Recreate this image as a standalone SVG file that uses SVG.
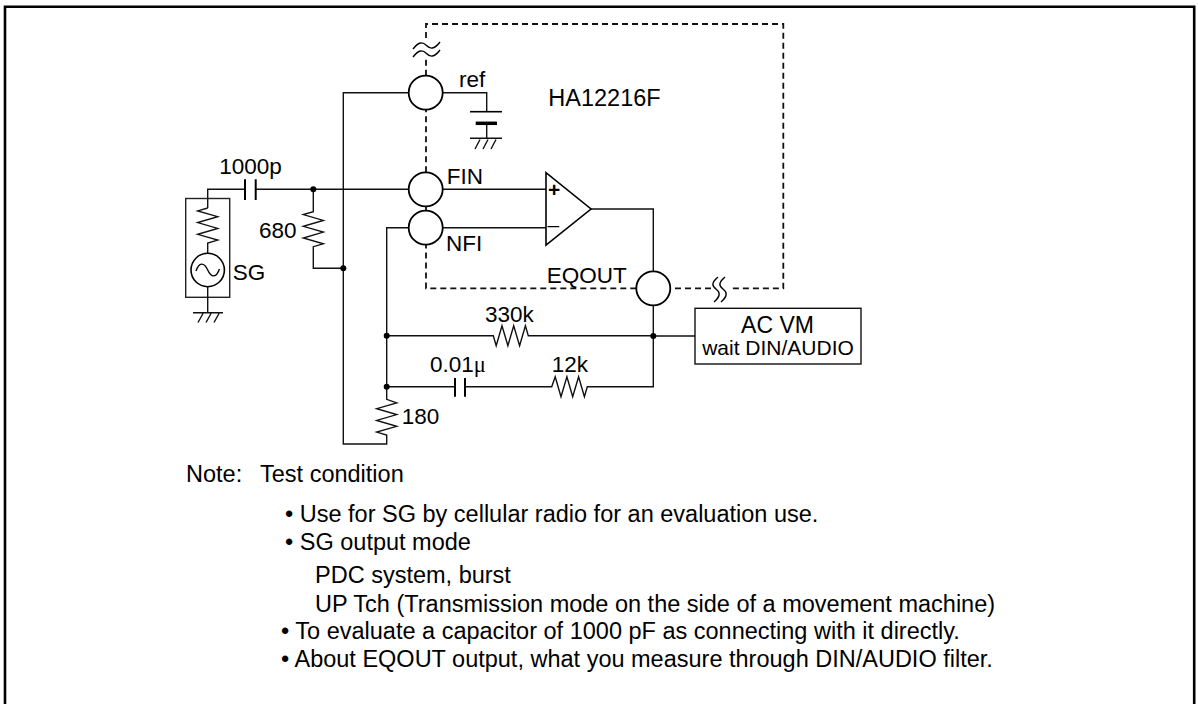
<svg xmlns="http://www.w3.org/2000/svg" width="1198" height="704" viewBox="0 0 1198 704">
<style>
  .w{fill:none;stroke:#111;stroke-width:1.4;stroke-linecap:butt;stroke-linejoin:miter}
  .pin{fill:#fff;stroke:#000;stroke-width:1.8}
  .dash{fill:none;stroke:#111;stroke-width:1.8;stroke-dasharray:6 4}
  .brk{fill:none;stroke:#000;stroke-width:1.4}
  .dot{fill:#000}
  .t{font-family:"Liberation Sans",Arial,sans-serif;font-size:22.5px;fill:#000}
  .n{font-family:"Liberation Sans",Arial,sans-serif;font-size:23.5px;fill:#000}
  .plate{stroke:#000;stroke-width:1.6;fill:none}
</style>
<rect x="0" y="0" width="1198" height="704" fill="#fff"/>
<path d="M5,712 V6.7 H1194.2 V712" fill="none" stroke="#000" stroke-width="2.6"/>

<g id="ic-boundary">
  <path class="dash" d="M426,38 V24 H783.3 V288.3 H729"/>
  <path class="dash" d="M711,288.3 H670.3"/>
  <path class="dash" d="M636.3,288.3 H426 V244.7"/>
  <path class="dash" d="M426,210.7 V206.3"/>
  <path class="dash" d="M426,172.3 V109.7"/>
  <path class="dash" d="M426,75.7 V59"/>
  <path class="brk" d="M413,49 C419,41 423,42 426.5,45.5 C430,49 434,50 440,42"/>
  <path class="brk" d="M413,57 C419,49 423,50 426.5,53.5 C430,57 434,58 440,50"/>
  <path class="brk" d="M718,277 C711,283 712,286 716,289 C720,292 721,296 714,302"/>
  <path class="brk" d="M725,277 C718,283 719,286 723,289 C727,292 728,296 721,302"/>
  <text class="t" x="548.3" y="106" style="font-size:23.5px">HA12216F</text>
</g>

<g id="connectors">
  <path class="w" d="M207.7,208 V189.3 H245"/>
  <path class="w" d="M255.7,189.3 H408.7"/>
  <path class="w" d="M313.3,189.3 V211.7 L303.3,214.6 L323.3,220.4 L303.3,226.3 L323.3,232.1 L303.3,238 L323.3,243.8 L313.3,246.7 V268.3 H343.3"/>
  <path class="w" d="M408.7,92.7 H343.3 V444 H386.7 V435 L376.7,432.1 L396.7,426.3 L376.7,420.4 L396.7,414.6 L376.7,408.7 L396.7,402.9 L386.7,399.3 V227.7 H408.7"/>
  <path class="w" d="M442.7,189.3 H546"/>
  <path class="w" d="M442.7,227.7 H546"/>
  <path class="w" d="M591,209 H653.3 V271.3"/>
  <path class="w" d="M653.3,305.3 V386.7 H587.3 L584.4,396.7 L578.6,376.7 L572.7,396.7 L566.9,376.7 L561,396.7 L555.2,376.7 L551.7,386.7 H465"/>
  <path class="w" d="M455,386.7 H386.7"/>
  <path class="w" d="M386.7,335.7 H493.3 L496.2,345.7 L502,325.7 L507.9,345.7 L513.7,325.7 L519.6,345.7 L525.4,325.7 L528.3,335.7 H653.3"/>
  <path class="w" d="M653.3,336 H695"/>
  <path class="w" d="M442.7,92.7 H486.7 V111.7"/>
  <path class="w" d="M486.7,123.3 V138.3"/>
  <g id="junctions">
    <circle class="dot" cx="313.3" cy="189.3" r="3"/>
    <circle class="dot" cx="343.3" cy="268.3" r="3"/>
    <circle class="dot" cx="386.7" cy="335.7" r="3"/>
    <circle class="dot" cx="386.7" cy="386.7" r="3"/>
    <circle class="dot" cx="653.3" cy="336" r="3"/>
  </g>
</g>

<g id="c-1000p">
  <path class="plate" d="M245,179.3 V200 M255.7,179.3 V200" style="stroke-width:2"/>
  <text class="t" x="219.3" y="174">1000p</text>
</g>

<g id="sg">
  <rect x="185.7" y="198.5" width="44" height="98.8" fill="none" stroke="#222" stroke-width="1.4"/>
  <path class="w" d="M207.7,208 L197.7,210.9 L217.7,216.7 L197.7,222.6 L217.7,228.4 L197.7,234.3 L217.7,240.1 L207.7,243 V253.3"/>
  <circle cx="207.7" cy="270" r="16.7" fill="none" stroke="#000" stroke-width="1.6"/>
  <path class="brk" d="M196,271 C199,262 204,262 207.7,270 C211.4,278 216.4,278 219.4,269"/>
  <path class="w" d="M207.7,286.7 V312.7"/>
  <path class="w" d="M193,312.7 H223 M198,322.5 L203,313.5 M206,322.5 L211,313.5 M214,322.5 L219,313.5"/>
  <text class="t" x="232.7" y="280">SG</text>
</g>

<g id="r-680">
  <text class="t" x="259" y="237.7">680</text>
</g>

<g id="pin-ref">
  <circle class="pin" cx="425.7" cy="92.7" r="17"/>
  <text class="t" x="459" y="87.3">ref</text>
</g>

<g id="c-ref">
  <path class="plate" d="M470,111.7 H502"/>
  <path class="plate" d="M475.7,123.3 H497" style="stroke-width:3.5"/>
  <path class="w" d="M470,138.3 H502 M475,149 L480,139.5 M483,149 L488,139.5 M491,149 L496,139.5"/>
</g>

<g id="pin-fin">
  <circle class="pin" cx="425.7" cy="189.3" r="17"/>
  <text class="t" x="446.7" y="184">FIN</text>
</g>

<g id="pin-nfi">
  <circle class="pin" cx="425.7" cy="227.7" r="17"/>
  <text class="t" x="446" y="250.7">NFI</text>
</g>

<g id="opamp">
  <path d="M546,172.7 V245 L591,209 Z" fill="#fff" stroke="#000" stroke-width="1.6"/>
  <text class="t" x="548" y="196.5" style="font-size:21px;font-weight:bold">+</text>
  <text class="t" x="547.5" y="232" style="font-size:21px">–</text>
</g>

<g id="pin-eqout">
  <circle class="pin" cx="653.3" cy="288.3" r="17"/>
  <text class="t" x="546.7" y="283.3">EQOUT</text>
</g>

<g id="r-330k">
  <text class="t" x="485" y="321.7">330k</text>
</g>

<g id="c-001u">
  <path class="plate" d="M455,378 V396.7 M465,378 V396.7" style="stroke-width:2"/>
  <text class="t" x="430" y="371.7">0.01<tspan style="font-family:'Liberation Serif',serif">μ</tspan></text>
</g>

<g id="r-12k">
  <text class="t" x="551.7" y="371.7">12k</text>
</g>

<g id="r-180">
  <text class="t" x="401.7" y="424.3">180</text>
</g>

<g id="acvm">
  <rect x="695" y="308.3" width="166" height="55.7" fill="#fff" stroke="#111" stroke-width="1.4"/>
  <text class="t" x="777.5" y="332.5" text-anchor="middle" style="font-size:23px">AC VM</text>
  <text class="t" x="778" y="354.5" text-anchor="middle" style="font-size:21px">wait DIN/AUDIO</text>
</g>

<g id="notes">
  <text class="n" x="186" y="482.3">Note:</text>
  <text class="n" x="260" y="482.3">Test condition</text>
  <text class="n" x="285" y="521.7">• Use for SG by cellular radio for an evaluation use.</text>
  <text class="n" x="285" y="550">• SG output mode</text>
  <text class="n" x="315" y="583.3">PDC system, burst</text>
  <text class="n" x="315" y="611.7">UP Tch (Transmission mode on the side of a movement machine)</text>
  <text class="n" x="281" y="639">• To evaluate a capacitor of 1000 pF as connecting with it directly.</text>
  <text class="n" x="281" y="666.7">• About EQOUT output, what you measure through DIN/AUDIO filter.</text>
</g>
</svg>
